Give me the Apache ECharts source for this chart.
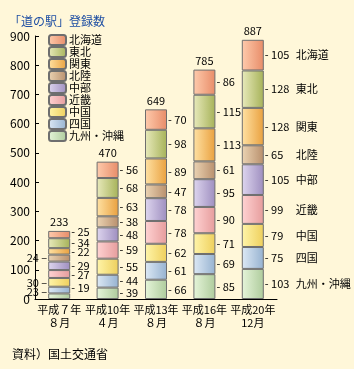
<!DOCTYPE html>
<html lang="ja">
<head>
<meta charset="utf-8">
<title>「道の駅」登録数</title>
<script src="https://cdn.jsdelivr.net/npm/echarts@6/dist/echarts.min.js"></script>
<style>
  html, body { margin: 0; padding: 0; background: #fff7d9; }
  #main { width: 354px; height: 369px; }
</style>
</head>
<body>
<div id="main"></div>
<script type="text/javascript">
// 横軸
var categories = ['平成７年\n８月', '平成10年\n４月', '平成13年\n８月', '平成16年\n８月', '平成20年\n12月'];
// 積み上げ順 (下から)
var regions = ['九州・沖縄', '四国', '中国', '近畿', '中部', '北陸', '関東', '東北', '北海道'];
var kyushu   = [19, 39, 66, 85, 103];
var shikoku  = [23, 44, 61, 69, 75];
var chugoku  = [30, 55, 62, 71, 79];
var kinki    = [27, 59, 78, 90, 99];
var chubu    = [29, 48, 78, 95, 105];
var hokuriku = [24, 38, 47, 61, 65];
var kanto    = [22, 63, 89, 113, 128];
var tohoku   = [34, 68, 98, 115, 128];
var hokkaido = [25, 56, 70, 86, 105];
var totals   = [233, 470, 649, 785, 887];
var yTicks   = [0, 900, 100];

var values = [kyushu, shikoku, chugoku, kinki, chubu, hokuriku, kanto, tohoku, hokkaido];

// 色 (左明るい -> 右暗い)
var colors = [
    ['#e6f5da', '#aecb9c'],
    ['#dde9f5', '#96b2d0'],
    ['#fff5aa', '#eecf5c'],
    ['#ffd3d3', '#e69c9c'],
    ['#ded6ef', '#9e8ebf'],
    ['#ebd4b4', '#b88f6c'],
    ['#ffe2a4', '#e9a03e'],
    ['#e8eabc', '#a6b258'],
    ['#fecbad', '#e88c68']
];

// 平成7年の小さい値は左に出す
var leftLabels = { '四国': true, '中国': true, '北陸': true };
var firstOffsets = { '九州・沖縄': [0, -8], '北海道': [0, -3], '近畿': [0, 1], '四国': [0, 2] };

var FONT = 'Noto Sans CJK JP';
var FS = 11;

var series = regions.map(function (name, r) {
    var data = values[r].map(function (v, i) {
        var item = { value: v };
        if (i === 0) {
            if (leftLabels[name]) {
                item.label = { position: 'left', distance: 1, formatter: '{c} –' };
            }
            if (firstOffsets[name]) {
                item.label = item.label || {};
                item.label.offset = firstOffsets[name];
            }
        }
        if (i === 4) {
            item.label = {
                formatter: function (p) {
                    return '{v|- ' + p.value + '}{n|' + p.seriesName + '}';
                },
                rich: {
                    v: { width: 31, fontSize: FS, fontFamily: FONT, color: '#000' },
                    n: { fontSize: FS, fontFamily: FONT, color: '#000' }
                }
            };
        }
        return item;
    });
    return {
        name: name,
        type: 'bar',
        stack: 'all',
        barWidth: 22,
        data: data,
        itemStyle: {
            color: new echarts.graphic.LinearGradient(0, 0, 1, 0, [
                { offset: 0, color: colors[r][0] },
                { offset: 1, color: colors[r][1] }
            ]),
            borderColor: '#6e6e6e',
            borderWidth: 1
        },
        label: {
            show: true,
            position: 'right',
            distance: 1,
            formatter: '- {c}',
            fontSize: FS,
            fontFamily: FONT,
            color: '#000'
        },
        emphasis: { disabled: true }
    };
});

// 合計
series.push({
    name: '合計',
    type: 'line',
    data: totals,
    symbol: 'circle',
    symbolSize: 1,
    itemStyle: { color: 'rgba(0,0,0,0)' },
    lineStyle: { opacity: 0 },
    label: {
        show: true,
        position: 'top',
        distance: 3,
        fontSize: FS,
        fontFamily: FONT,
        color: '#000'
    },
    silent: true,
    z: 5
});

var chart = echarts.init(document.getElementById('main'));
var option = {
    backgroundColor: '#fff7d9',
    animation: false,
    title: [{
        text: '「道の駅」登録数',
        left: 4,
        top: 10,
        textStyle: { fontSize: 12, fontWeight: 'normal', fontFamily: FONT, color: '#1f4fa3' }
    }, {
        text: '資料）国土交通省',
        left: 7,
        top: 343,
        textStyle: { fontSize: 12, fontWeight: 'normal', fontFamily: FONT, color: '#000' }
    }],
    legend: {
        data: regions.slice().reverse(),
        orient: 'vertical',
        left: 48,
        top: 34,
        itemWidth: 17,
        itemHeight: 10,
        itemGap: 0,
        padding: 0,
        textStyle: { fontSize: FS, fontFamily: FONT, color: '#000', lineHeight: 12, padding: [0, 0, 0, -2] },
        selectedMode: false
    },
    grid: { left: 35, right: 77, top: 36, bottom: 70 },
    xAxis: {
        type: 'category',
        data: categories,
        axisLine: { lineStyle: { color: '#000' } },
        axisTick: { show: false },
        axisLabel: { interval: 0, fontSize: FS, fontFamily: FONT, color: '#000', margin: 4, lineHeight: 13 }
    },
    yAxis: {
        type: 'value',
        min: yTicks[0],
        max: yTicks[1],
        interval: yTicks[2],
        axisLine: { show: true, lineStyle: { color: '#000' } },
        axisTick: { show: true, inside: true, length: 4, lineStyle: { color: '#000' } },
        splitLine: { show: false },
        axisLabel: { fontSize: 12, fontFamily: FONT, color: '#000', margin: 5 }
    },
    series: series
};
chart.setOption(option);
</script>
</body>
</html>
